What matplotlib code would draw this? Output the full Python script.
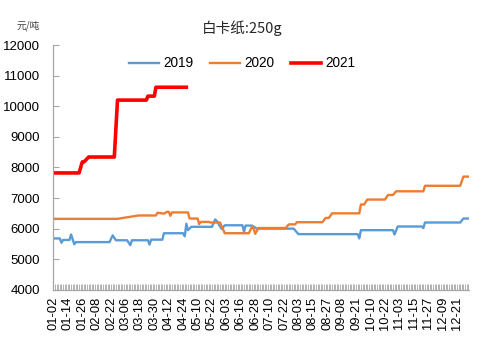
import matplotlib
matplotlib.use("Agg")
import matplotlib.pyplot as plt

plt.rcParams['font.family'] = ['Liberation Sans', 'Noto Sans CJK SC', 'DejaVu Sans']

# trading-day index (0..259) and the date labels shown every 9th day
n_days = 260
tick_labels = ["01-02", "01-14", "01-26", "02-08", "02-22", "03-06", "03-18",
               "03-30", "04-12", "04-24", "05-10", "05-22", "06-03", "06-16",
               "06-28", "07-10", "07-22", "08-03", "08-15", "08-27", "09-08",
               "09-21", "10-10", "10-22", "11-03", "11-15", "11-27", "12-09",
               "12-21"]
tick_step = 9

# price points (trading-day index, 元/吨) where each series changes level
idx_2019 = [0, 4, 5, 6, 10, 11, 13, 14, 35, 37, 39, 46, 48, 49, 59, 60, 61, 68,
            69, 81, 82, 83, 84, 85, 86, 99, 101, 102, 105, 107, 118, 119, 120,
            124, 127, 150, 153, 190, 191, 192, 212, 213, 215, 230, 231, 232,
            254, 256, 259]
val_2019 = [5680, 5680, 5540, 5630, 5630, 5810, 5490, 5560, 5560, 5780, 5620,
            5620, 5460, 5620, 5620, 5480, 5640, 5640, 5850, 5850, 5750, 6160,
            5950, 6000, 6060, 6060, 6300, 6250, 5990, 6110, 6110, 5900, 6100,
            6100, 6000, 6000, 5820, 5820, 5680, 5950, 5950, 5810, 6070, 6070,
            6020, 6200, 6200, 6330, 6330]

idx_2020 = [0, 40, 53, 64, 65, 69, 71, 72, 73, 74, 84, 85, 90, 91, 92, 97, 98,
            104, 107, 122, 124, 125, 126, 128, 145, 147, 151, 152, 168, 170,
            172, 174, 191, 192, 194, 196, 207, 209, 212, 214, 231, 232, 254,
            256, 259]
val_2020 = [6320, 6320, 6430, 6430, 6520, 6490, 6550, 6550, 6420, 6530, 6530,
            6330, 6330, 6150, 6220, 6220, 6200, 6200, 5850, 5850, 6060, 6000,
            5830, 6020, 6020, 6140, 6140, 6210, 6210, 6350, 6350, 6500, 6500,
            6790, 6790, 6950, 6950, 7100, 7100, 7220, 7220, 7400, 7400, 7700,
            7700]

idx_2021 = [0, 16, 18, 19, 20, 22, 38, 40, 58, 59, 63, 64, 83]
val_2021 = [7820, 7820, 8180, 8180, 8230, 8340, 8340, 10200, 10200, 10330,
            10330, 10620, 10620]

series = [
    ("2019", idx_2019, val_2019, "#5B9BD5", 1.7),
    ("2020", idx_2020, val_2020, "#ED7D31", 1.7),
    ("2021", idx_2021, val_2021, "#FF0000", 2.6),
]

fig = plt.figure(figsize=(4.83, 3.41), dpi=100)
ax = fig.add_axes([0.109, 0.150, 0.862, 0.718])

for name, xs, ys, color, lw in series:
    ax.plot(xs, ys, color=color, lw=lw, label=name, solid_joinstyle='round')

ax.set_xlim(-0.5, n_days - 0.5)
ax.set_ylim(4000, 12000)
ax.set_yticks(range(4000, 12001, 1000))

major_pos = [i * tick_step for i in range(len(tick_labels))]
ax.set_xticks(major_pos)
ax.set_xticklabels(tick_labels, rotation=90, fontsize=9.3)
ax.set_xticks(range(n_days), minor=True)

for side in ("top", "right"):
    ax.spines[side].set_visible(False)
for side in ("left", "bottom"):
    ax.spines[side].set_color("#A6A6A6")
    ax.spines[side].set_linewidth(0.9)

ax.tick_params(axis='y', direction='in', length=4, color="#A6A6A6",
               labelsize=9.5, pad=9)
ax.tick_params(axis='x', which='both', direction='in', length=4,
               color="#A6A6A6", width=0.6, pad=5)

fig.text(0.502, 0.918, "白卡纸:250g", ha='center', va='center', fontsize=10.5,
         family=['Noto Sans CJK SC', 'DejaVu Sans'], color="#262626")
fig.text(0.058, 0.924, "元/吨", ha='center', va='center', fontsize=7,
         family=['Noto Sans CJK SC', 'DejaVu Sans'], color="#404040")

ax.legend(loc='center', bbox_to_anchor=(0.455, 0.925), ncol=3, frameon=False,
          fontsize=9.8, handlelength=2.2, columnspacing=1.2, handletextpad=0.35)

fig.savefig("out.png", dpi=100)
